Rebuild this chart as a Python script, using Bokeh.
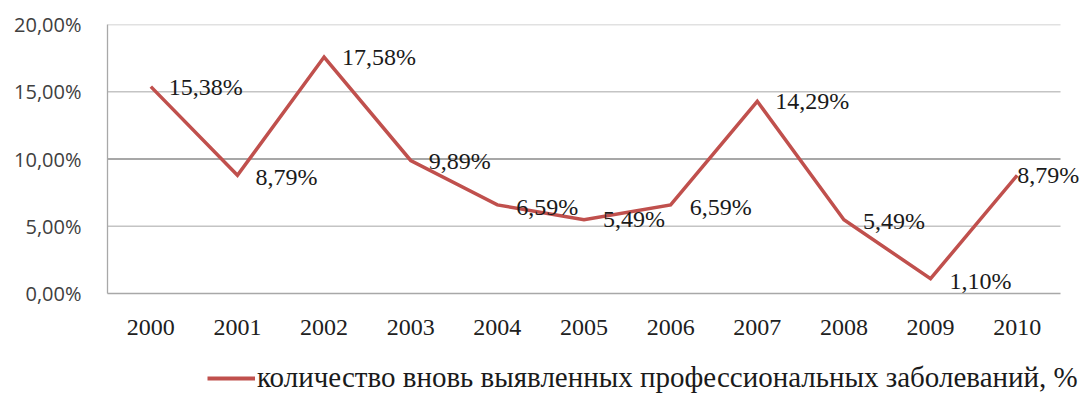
from bokeh.plotting import figure
from bokeh.layouts import column
from bokeh.models import (ColumnDataSource, FixedTicker, Legend, LegendItem,
                          Range1d, LabelSet)
from bokeh.embed import file_html
from bokeh.resources import INLINE

years = ["2000", "2001", "2002", "2003", "2004", "2005", "2006", "2007", "2008", "2009", "2010"]
share = [15.38, 8.79, 17.58, 9.89, 6.59, 5.49, 6.59, 14.29, 5.49, 1.10, 8.79]
y_ticks = [0, 5, 10, 15, 20]
y_tick_labels = ["0,00%", "5,00%", "10,00%", "15,00%", "20,00%"]
series_name = "количество вновь выявленных профессиональных заболеваний, %"

# styling (label offsets in screen pixels)
label_dx = [18, 18, 18, 18, 19, 19, 19, 18, 19, 19, 0]
label_dy = [0, -2, 0, -1, -2, 1, -2, 0, -1, -2, 0]

LINE_COLOR = "#c0504d"

# layout constants (pixels)
PLOT_W = 953      # width of the category area
EXTRA_R = 23      # room right of the last category for its label
MAIN_H = 350
LEG_H = 44

n = len(years)
xs = list(range(n))
value_labels = [f"{v:.2f}".replace(".", ",") + "%" for v in share]

src = ColumnDataSource(dict(x=xs, y=share, lab=value_labels, dx=label_dx, dy=label_dy))

x_lo, x_hi = -0.5, n - 0.5
x_end = x_hi + EXTRA_R * n / PLOT_W

p = figure(width=1083, height=MAIN_H,
           x_range=Range1d(x_lo, x_end), y_range=Range1d(y_ticks[0], y_ticks[-1]),
           output_backend="svg", toolbar_location=None,
           min_border_left=107, min_border_right=0, min_border_top=24, min_border_bottom=57)
p.outline_line_color = None
p.background_fill_color = "white"
p.border_fill_color = "white"
p.xgrid.grid_line_color = None
p.ygrid.grid_line_color = None

# horizontal grid lines across the category area only
grid_y = y_ticks[1:]
grid_col = ["#8a8a8a" if t == 10 else "#c4c4c4" for t in grid_y]
p.segment(x0=[x_lo] * len(grid_y), x1=[x_hi] * len(grid_y), y0=grid_y, y1=grid_y,
          line_color=grid_col, line_width=1.3)

p.yaxis.ticker = FixedTicker(ticks=y_ticks)
p.yaxis.major_label_overrides = {t: l for t, l in zip(y_ticks, y_tick_labels)}
p.yaxis.axis_line_color = "#a8a8a8"
p.yaxis.axis_line_width = 1.3
p.yaxis.major_tick_line_color = None
p.yaxis.minor_tick_line_color = None
p.yaxis.major_label_standoff = 20
p.yaxis.major_label_text_font = "Open Sans"
p.yaxis.major_label_text_font_size = "20px"
p.yaxis.major_label_text_color = "#404040"

p.xaxis.ticker = FixedTicker(ticks=xs)
p.xaxis.major_label_overrides = {i: y for i, y in zip(xs, years)}
p.xaxis.bounds = (x_lo, x_hi)
p.xaxis.axis_line_color = "#a8a8a8"
p.xaxis.axis_line_width = 1.3
p.xaxis.major_tick_line_color = None
p.xaxis.minor_tick_line_color = None
p.xaxis.major_label_standoff = 20
p.xaxis.major_label_text_font = "Liberation Serif"
p.xaxis.major_label_text_font_size = "24px"
p.xaxis.major_label_text_color = "#202020"

p.line("x", "y", source=src, line_color=LINE_COLOR, line_width=3.5, line_join="miter")

labels = LabelSet(x="x", y="y", text="lab", source=src, x_offset="dx", y_offset="dy",
                  text_font="Liberation Serif", text_font_size="24px",
                  text_baseline="middle", text_align="left", text_color="#1a1a1a")
p.add_layout(labels)

# legend strip below the chart (no axes, so its frame spans the full strip)
lg = figure(width=1083, height=LEG_H, x_range=Range1d(0, 1), y_range=Range1d(0, 1),
            x_axis_location=None, y_axis_location=None,
            output_backend="svg", toolbar_location=None,
            min_border_left=0, min_border_right=0, min_border_top=0, min_border_bottom=0)
lg.grid.visible = False
lg.outline_line_color = None
lg.border_fill_color = "white"
lg.background_fill_color = "white"
# legend-only sample renderer, kept outside the visible range of the strip
sample = lg.line(x=[-2, -1], y=[-2, -2], line_color=LINE_COLOR, line_width=4)

legend = Legend(items=[LegendItem(label=series_name, renderers=[sample])],
                orientation="horizontal", location=(100, 0),
                label_text_font="Liberation Serif", label_text_font_size="29px",
                label_text_color="#1a1a1a", glyph_width=48, glyph_height=20,
                label_height=24, label_standoff=2, border_line_color=None,
                background_fill_alpha=0, padding=0, margin=0, spacing=0)
lg.add_layout(legend)

layout = column(p, lg, spacing=0)

open("out.html", "w").write(file_html(layout, INLINE))
